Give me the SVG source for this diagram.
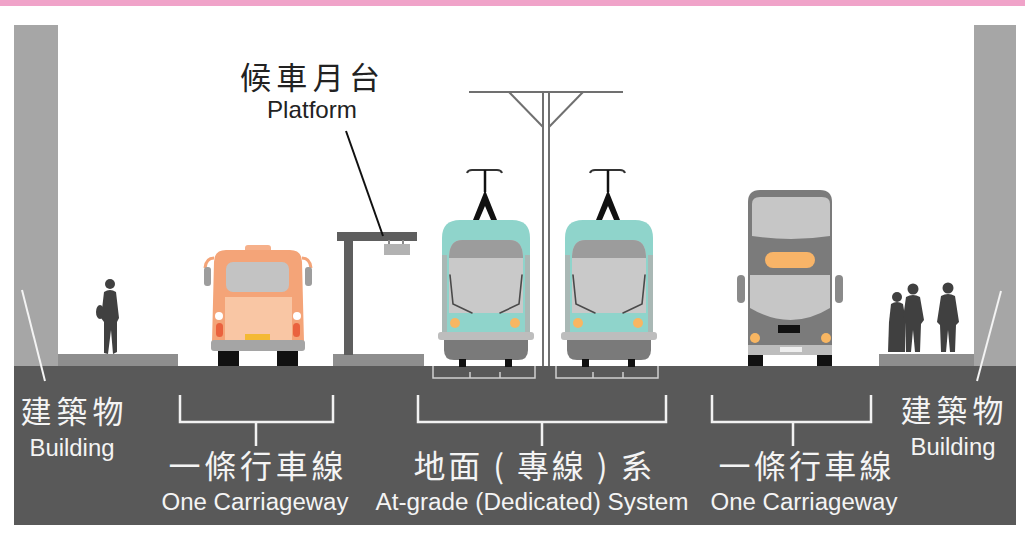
<svg xmlns="http://www.w3.org/2000/svg" width="1025" height="538" viewBox="0 0 1025 538">
  <style>
    .cjk { font-family: "Noto Sans CJK TC", "Noto Sans CJK SC", sans-serif; }
    .lat { font-family: "Liberation Sans", Arial, sans-serif; }
    .light { fill: #f4f4f4; }
    .dark { fill: #222222; }
    .bracket { fill: none; stroke: #f2f2f2; stroke-width: 2.5; }
    .rail { fill: none; stroke: #d0d0d0; stroke-width: 1.5; }
    .person { fill: #404040; }
    .wiper { fill: none; stroke: #4a4a4a; stroke-width: 1.6; stroke-linecap: round; }
    .pylon { fill: none; stroke: #707070; stroke-width: 2; }
  </style>
  <defs>
    <!-- light-rail vehicle, front view, origin at left body edge / roof -->
    <g id="tram">
      <!-- pantograph -->
      <path d="M25,-47 Q26,-50 30,-50 H55 Q59,-50 60,-47" fill="none" stroke="#333" stroke-width="2"/>
      <line x1="43" y1="-50" x2="43" y2="-28" stroke="#111" stroke-width="2.5"/>
      <path d="M43,-30 L31,0 H37 L43,-14 L49,0 H55 Z" fill="#111"/>
      <!-- body -->
      <path d="M0,18 Q0,0 18,0 H70 Q88,0 88,18 V120 H0 Z" fill="#8fd4cb"/>
      <rect x="0" y="35" width="5" height="82" fill="#a9b8b5"/>
      <rect x="83" y="35" width="5" height="82" fill="#a9b8b5"/>
      <path d="M7,38 Q7,20 20,20 H68 Q81,20 81,38 V93 H7 Z" fill="#c9c9c9"/>
      <path d="M7,38 Q7,20 20,20 H68 Q81,20 81,38 Z" fill="#9c9c9c"/>
      <polyline class="wiper" points="8,55 11,84 30,93"/>
      <polyline class="wiper" points="80,55 77,84 58,93"/>
      <circle cx="13" cy="103" r="5" fill="#f8b662"/>
      <circle cx="73" cy="103" r="5" fill="#f8b662"/>
      <rect x="-4" y="112" width="96" height="8" rx="3" fill="#bdbdbd"/>
      <path d="M2,120 H86 V130 Q86,140 76,140 H12 Q2,140 2,130 Z" fill="#7a7a7a"/>
      <rect x="17" y="139" width="7" height="8" fill="#111"/>
      <rect x="63" y="139" width="7" height="8" fill="#111"/>
    </g>
  </defs>

  <!-- top band -->
  <rect x="0" y="0" width="1025" height="6" fill="#f0a3c9"/>

  <!-- street surface -->
  <rect id="road" x="14" y="366" width="1002" height="159" fill="#595959"/>

  <!-- left building -->
  <g id="building-left">
    <rect x="14" y="25" width="44" height="341" fill="#a6a6a6"/>
    <rect x="58" y="354" width="120" height="12" fill="#8e8e8e"/>
    <line x1="22" y1="290" x2="45" y2="381" stroke="#f4f4f4" stroke-width="2"/>
    <text class="cjk light" x="72" y="423" font-size="31" text-anchor="middle" textLength="103" lengthAdjust="spacing">建築物</text>
    <text class="lat light" x="72" y="456" font-size="23" text-anchor="middle" textLength="85" lengthAdjust="spacingAndGlyphs">Building</text>
  </g>

  <!-- right building -->
  <g id="building-right">
    <rect x="974" y="25" width="42" height="341" fill="#a6a6a6"/>
    <rect x="879" y="354" width="95" height="12" fill="#8e8e8e"/>
    <line x1="1001" y1="291" x2="977" y2="381" stroke="#f4f4f4" stroke-width="2"/>
    <text class="cjk light" x="952" y="422" font-size="31" text-anchor="middle" textLength="103" lengthAdjust="spacing">建築物</text>
    <text class="lat light" x="953" y="455" font-size="23" text-anchor="middle" textLength="85" lengthAdjust="spacingAndGlyphs">Building</text>
  </g>

  <!-- pedestrians -->
  <g id="pedestrian-left" class="person">
    <circle cx="110" cy="284" r="5"/>
    <path d="M104,292 Q110,288 116,292 L119,318 L117,322 L117,352 L113,354 L111,330 L108,354 L104,353 L104,322 L101,318 Z"/>
    <ellipse cx="100" cy="312" rx="4" ry="7"/>
  </g>
  <g id="pedestrians-right" class="person">
    <circle cx="897" cy="297" r="5"/>
    <path d="M891,304 Q897,300 903,304 L906,322 L905,352 L888,352 L889,322 Z"/>
    <circle cx="913" cy="289" r="5.5"/>
    <path d="M906,297 Q913,293 920,297 L924,320 L921,324 L920,352 L915,352 L913,330 L911,352 L906,352 L906,324 L903,318 Z"/>
    <circle cx="948" cy="288" r="5.5"/>
    <path d="M941,296 Q948,292 955,296 L959,322 L956,325 L955,352 L950,352 L948,330 L946,352 L941,352 L940,325 L937,322 Z"/>
  </g>

  <!-- orange bus -->
  <g id="bus-left">
    <rect x="245" y="245" width="26" height="8" rx="3" fill="#f6b08a"/>
    <path d="M214,262 Q214,250 226,250 H290 Q302,250 302,262 L304,342 H212 Z" fill="#f4a478"/>
    <path d="M214,258 Q206,258 205,268" fill="none" stroke="#f4a478" stroke-width="3"/>
    <path d="M302,258 Q310,258 311,268" fill="none" stroke="#f4a478" stroke-width="3"/>
    <rect x="204" y="267" width="7" height="19" rx="3" fill="#9d9d9d"/>
    <rect x="305" y="267" width="7" height="19" rx="3" fill="#9d9d9d"/>
    <rect x="226" y="262" width="63" height="30" rx="7" fill="#c3c3c3"/>
    <rect x="225" y="297" width="67" height="44" fill="#f9c6a4"/>
    <circle cx="219" cy="316" r="4" fill="#ffffff"/>
    <circle cx="297" cy="316" r="4" fill="#ffffff"/>
    <rect x="216" y="323" width="7" height="14" rx="3.5" fill="#ea623e"/>
    <rect x="293" y="323" width="7" height="14" rx="3.5" fill="#ea623e"/>
    <rect x="245" y="334" width="25" height="6" fill="#f4b933"/>
    <rect x="211" y="340" width="94" height="11" rx="3" fill="#a5a5a5"/>
    <rect x="218" y="351" width="21" height="15" fill="#111"/>
    <rect x="277" y="351" width="21" height="15" fill="#111"/>
  </g>

  <!-- tram stop platform -->
  <g id="platform">
    <rect x="333" y="354" width="91" height="12" fill="#8e8e8e"/>
    <rect x="344" y="236" width="9" height="119" fill="#5e5e5e"/>
    <rect x="337" y="232" width="80" height="9" fill="#5e5e5e"/>
    <rect x="388" y="240" width="2" height="5" fill="#8a8a8a"/>
    <rect x="402" y="240" width="2" height="5" fill="#8a8a8a"/>
    <rect x="384" y="244" width="26" height="11" fill="#b2b2b2"/>
    <line x1="346" y1="131" x2="383" y2="236" stroke="#111" stroke-width="2"/>
    <text class="cjk dark" x="310" y="89" font-size="31" text-anchor="middle" textLength="140" lengthAdjust="spacing">候車月台</text>
    <text class="lat dark" x="312" y="118" font-size="24" text-anchor="middle" textLength="90" lengthAdjust="spacingAndGlyphs">Platform</text>
  </g>

  <!-- overhead line mast -->
  <g id="mast">
    <line class="pylon" x1="469" y1="92" x2="623" y2="92"/>
    <line class="pylon" x1="543" y1="92" x2="543" y2="366"/>
    <line class="pylon" x1="549" y1="92" x2="549" y2="366"/>
    <line class="pylon" x1="509" y1="92" x2="543" y2="127"/>
    <line class="pylon" x1="583" y1="92" x2="549" y2="127"/>
  </g>

  <!-- light-rail vehicles -->
  <g id="tram-left">
    <use href="#tram" x="442" y="220"/>
    <polyline class="rail" points="433,366 433,378 535,378 535,366"/>
    <line class="rail" x1="470" y1="372" x2="470" y2="378"/>
    <line class="rail" x1="500" y1="372" x2="500" y2="378"/>
  </g>
  <g id="tram-right">
    <use href="#tram" x="565" y="220"/>
    <polyline class="rail" points="556,366 556,378 658,378 658,366"/>
    <line class="rail" x1="593" y1="372" x2="593" y2="378"/>
    <line class="rail" x1="623" y1="372" x2="623" y2="378"/>
  </g>

  <!-- double-deck bus -->
  <g id="bus-right">
    <path d="M748,202 Q748,190 760,190 H820 Q832,190 832,202 V350 H748 Z" fill="#7b7b7b"/>
    <path d="M752,204 Q752,197 760,197 H822 Q830,197 830,204 V236 Q791,242 752,236 Z" fill="#c6c6c6"/>
    <rect x="765" y="252" width="50" height="16" rx="8" fill="#f8b468"/>
    <rect x="737" y="275" width="8" height="28" rx="4" fill="#8a8a8a"/>
    <rect x="835" y="275" width="8" height="28" rx="4" fill="#8a8a8a"/>
    <path d="M750,275 H830 V308 Q791,332 750,308 Z" fill="#c6c6c6"/>
    <rect x="778" y="325" width="22" height="8" fill="#111"/>
    <circle cx="755" cy="338" r="5" fill="#f8b662"/>
    <circle cx="826" cy="338" r="5" fill="#f8b662"/>
    <rect x="748" y="345" width="84" height="10" fill="#bdbdbd"/>
    <rect x="780" y="347" width="22" height="5" fill="#eeeeee"/>
    <rect x="748" y="355" width="15" height="11" fill="#111"/>
    <rect x="817" y="355" width="15" height="11" fill="#111"/>
  </g>

  <!-- dimension brackets -->
  <g id="connectors">
    <polyline class="bracket" points="180,395 180,422 333,422 333,395"/>
    <line class="bracket" x1="256" y1="422" x2="256" y2="446"/>
    <polyline class="bracket" points="418,395 418,422 666,422 666,395"/>
    <line class="bracket" x1="542" y1="422" x2="542" y2="446"/>
    <polyline class="bracket" points="712,395 712,422 871,422 871,395"/>
    <line class="bracket" x1="793" y1="422" x2="793" y2="446"/>
  </g>

  <!-- section labels -->
  <g id="label-carriageway-left">
    <text class="cjk light" x="256" y="478" font-size="32" text-anchor="middle" textLength="175" lengthAdjust="spacing">一條行車線</text>
    <text class="lat light" x="255" y="510" font-size="23" text-anchor="middle" textLength="187" lengthAdjust="spacingAndGlyphs">One Carriageway</text>
  </g>
  <g id="label-system">
    <text class="cjk light" x="533" y="478" font-size="32" text-anchor="middle" textLength="239" lengthAdjust="spacing">地面 ( 專線 ) 系</text>
    <text class="lat light" x="532" y="510" font-size="23" text-anchor="middle" textLength="313" lengthAdjust="spacingAndGlyphs">At-grade (Dedicated) System</text>
  </g>
  <g id="label-carriageway-right">
    <text class="cjk light" x="805" y="478" font-size="32" text-anchor="middle" textLength="173" lengthAdjust="spacing">一條行車線</text>
    <text class="lat light" x="804" y="510" font-size="23" text-anchor="middle" textLength="187" lengthAdjust="spacingAndGlyphs">One Carriageway</text>
  </g>
</svg>
